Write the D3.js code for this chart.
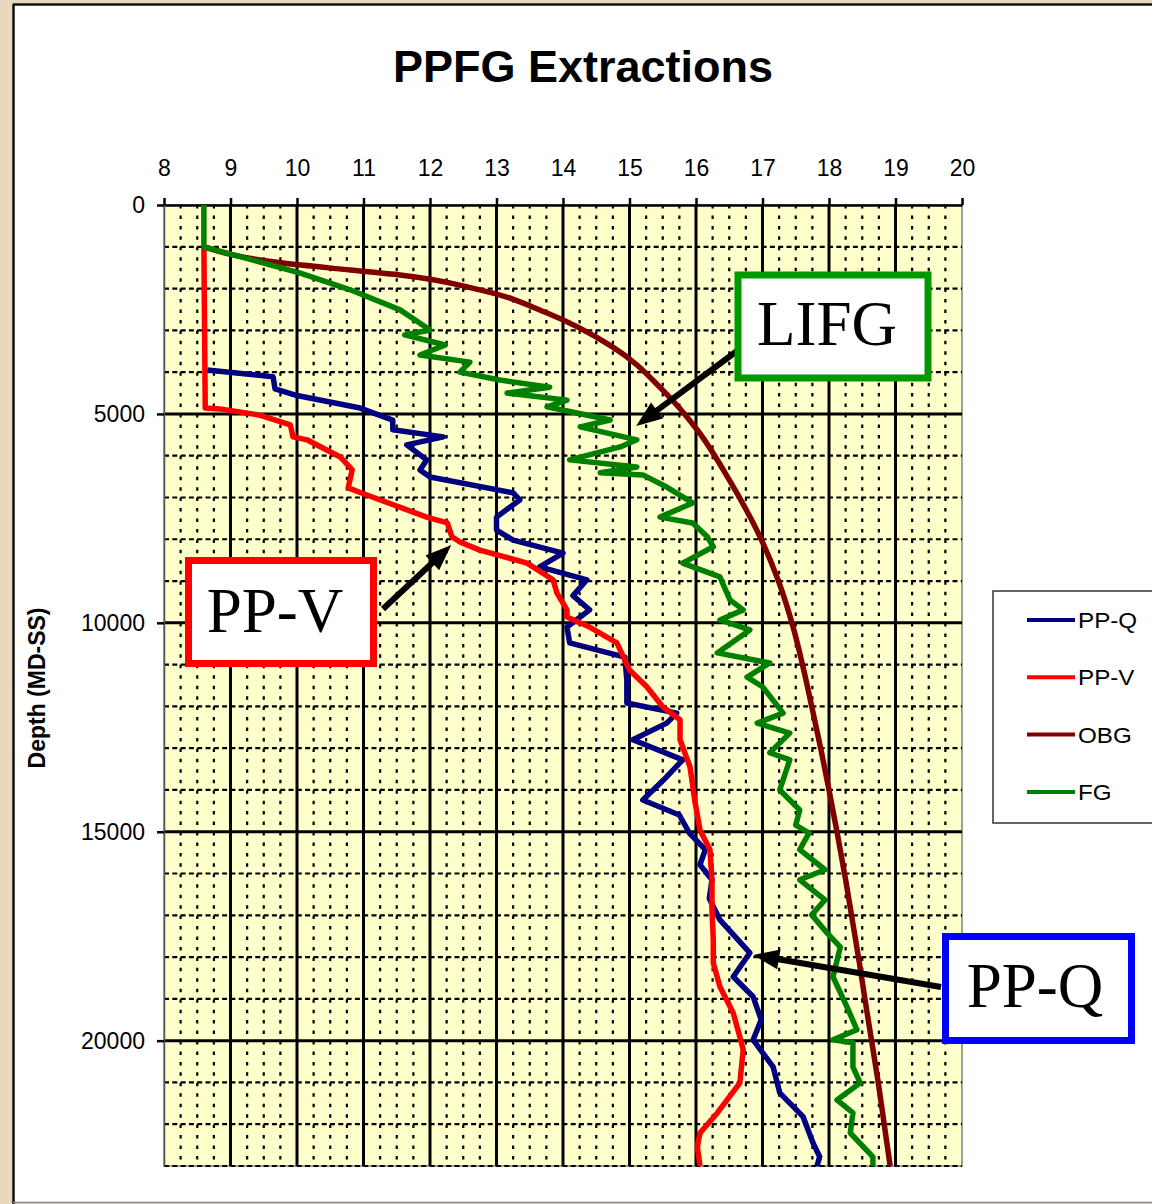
<!DOCTYPE html>
<html>
<head>
<meta charset="utf-8">
<script src="https://cdn.jsdelivr.net/npm/d3@7"></script>
<style>
  body { margin: 0; background: #fff; }
  svg { display: block; }
  text { font-family: "Liberation Sans", Arial, sans-serif; }
</style>
</head>
<body>
<div id="chart"></div>
<script>
// tick labels
var xTicks = [8, 9, 10, 11, 12, 13, 14, 15, 16, 17, 18, 19, 20];
var yTicks = [0, 5000, 10000, 15000, 20000];

// PP-Q (ppg vs depth ft)
var ppqDepth = [3950, 4110, 4400, 4560, 4860, 5150, 5380, 5550, 5740, 6100, 6340, 6510, 6890, 7060, 7470, 7780, 8020, 8330, 8660, 8970, 9350, 9690, 10100, 10480, 10820, 11370, 11920, 12160, 12400, 12800, 13280, 13700, 14240, 14600, 15030, 15430, 15790, 16150, 16600, 17110, 17900, 18470, 18950, 19500, 19980, 20630, 21250, 21820, 22450, 22780, 23000];
var ppqPpg = [8.65, 9.64, 9.67, 10.0, 10.95, 11.44, 11.44, 12.2, 11.65, 11.95, 11.85, 12.0, 13.25, 13.35, 13.0, 13.0, 13.25, 14.0, 13.65, 14.36, 14.15, 14.4, 14.06, 14.1, 14.93, 14.96, 14.96, 15.71, 15.56, 15.05, 15.8, 15.55, 15.2, 15.75, 15.9, 16.14, 16.06, 16.24, 16.2, 16.36, 16.81, 16.56, 16.86, 16.98, 16.86, 17.16, 17.26, 17.61, 17.76, 17.86, 17.82];

// PP-V
var ppvDepth = [1000, 4860, 4880, 5030, 5265, 5550, 5620, 6030, 6340, 6770, 6940, 7470, 7610, 7940, 8065, 8260, 8570, 8970, 9290, 9690, 9860, 10100, 10480, 11130, 11530, 12010, 12320, 12800, 13450, 14240, 14960, 15430, 16150, 16870, 17590, 18140, 18710, 19340, 19910, 20220, 21010, 21730, 22210, 22540, 23000];
var ppvPpg = [8.6, 8.62, 8.84, 9.44, 9.9, 9.94, 10.15, 10.65, 10.83, 10.77, 11.05, 11.95, 12.26, 12.33, 12.45, 12.75, 13.46, 13.85, 13.91, 14.06, 14.06, 14.4, 14.81, 15.0, 15.26, 15.5, 15.76, 15.76, 15.91, 15.98, 16.06, 16.21, 16.24, 16.24, 16.26, 16.26, 16.36, 16.56, 16.66, 16.71, 16.66, 16.32, 16.06, 16.02, 16.06];

// OBG
var obgDepth = [1000, 1390, 1555, 1675, 2030, 2585, 3400, 4430, 5385, 6580, 8000, 9000, 10100, 11200, 12000, 13040, 14000, 15000, 16150, 17110, 18070, 19000, 20000, 21000, 22000, 23000];
var obgPpg = [8.6, 9.79, 10.8, 11.55, 12.75, 13.76, 14.75, 15.5, 16.02, 16.5, 16.98, 17.24, 17.46, 17.63, 17.74, 17.88, 18.0, 18.12, 18.25, 18.35, 18.45, 18.54, 18.64, 18.74, 18.83, 18.92];

// FG
var fgDepth = [0, 1000, 1630, 2030, 2510, 2990, 3110, 3350, 3590, 3760, 4000, 4190, 4360, 4500, 4670, 4830, 5145, 5310, 5620, 5790, 6100, 6270, 6410, 6460, 6750, 7130, 7470, 7610, 7940, 8180, 8570, 8900, 9450, 9690, 9930, 10170, 10720, 10960, 11300, 11530, 12160, 12400, 12640, 13110, 13280, 14000, 14480, 14840, 15030, 15430, 15910, 16150, 16630, 16990, 17420, 17760, 18470, 19190, 19740, 19980, 20050, 20630, 21010, 21420, 21730, 22210, 22780, 23000];
var fgPpg = [8.6, 8.6, 10.05, 10.8, 11.55, 12.0, 11.62, 12.23, 11.85, 12.6, 12.45, 13.05, 13.8, 13.16, 14.06, 13.76, 14.71, 14.26, 15.11, 14.86, 14.1, 15.11, 14.56, 15.2, 15.56, 15.95, 15.46, 15.95, 16.17, 16.26, 15.8, 16.36, 16.51, 16.71, 16.36, 16.81, 16.32, 17.11, 16.77, 17.0, 17.31, 16.92, 17.41, 17.11, 17.41, 17.26, 17.56, 17.5, 17.7, 17.56, 17.94, 17.56, 17.94, 17.74, 17.97, 18.17, 18.06, 18.27, 18.42, 18.06, 18.36, 18.36, 18.47, 18.12, 18.36, 18.32, 18.66, 18.66];

var seriesNames = ["PP-Q", "PP-V", "OBG", "FG"];
var seriesColors = ["#000080", "#ff0000", "#800000", "#008000"];

// call-out boxes: label, arrow tip in data units (ppg, depth)
var calloutLabels = ["LIFG", "PP-V", "PP-Q"];
var calloutTipPpg = [15.1, 12.32, 16.86];
var calloutTipDepth = [5290, 8140, 17950];

function draw() {
    var W = 1152, H = 1204;
    var svg = d3.select("#chart").append("svg").attr("width", W).attr("height", H);

    // frame
    svg.append("rect").attr("width", W).attr("height", H).style("fill", "#e9d8bb");
    svg.append("rect").attr("x", 13).attr("y", 4).attr("width", W - 13).attr("height", 1198).style("fill", "#fff");
    svg.append("line").attr("x1", 13.5).attr("x2", 13.5).attr("y1", 4).attr("y2", H).style("stroke", "#111").style("stroke-width", 2.5);
    svg.append("line").attr("x1", 13).attr("x2", W).attr("y1", 4.5).attr("y2", 4.5).style("stroke", "#111").style("stroke-width", 2.5);
    svg.append("line").attr("x1", 13).attr("x2", W).attr("y1", 1202.5).attr("y2", 1202.5).style("stroke", "#888").style("stroke-width", 1.5);

    var x = d3.scaleLinear().domain([8, 20]).range([164, 962]);
    var y = d3.scaleLinear().domain([0, 23000]).range([205, 1166]);

    svg.append("text")
        .attr("x", 583).attr("y", 82)
        .attr("text-anchor", "middle")
        .style("font-size", "45px").style("font-weight", "bold")
        .text("PPFG Extractions");

    // plot background
    svg.append("rect")
        .attr("x", x(8)).attr("y", y(0))
        .attr("width", x(20) - x(8)).attr("height", y(23000) - y(0))
        .style("fill", "#ffffcc").style("stroke", "#808080").style("stroke-width", 1.5);

    var grid = svg.append("g").attr("class", "grid");

    var minorX = d3.range(8.25, 20, 0.25).filter(function (v) { return Math.abs(v - Math.round(v)) > 0.01; });
    var minorY = d3.range(1000, 23001, 1000).filter(function (d) { return d % 5000 != 0; });
    var majorX = d3.range(9, 20, 1);
    var majorY = [5000, 10000, 15000, 20000];

    grid.selectAll(".minx").data(minorX).enter().append("line")
        .attr("class", "minx")
        .attr("x1", function (d) { return x(d); }).attr("x2", function (d) { return x(d); })
        .attr("y1", y(0)).attr("y2", y(23000))
        .style("stroke", "#000").style("stroke-width", 2.2)
        .style("stroke-dasharray", "3.5,6.95");

    grid.selectAll(".miny").data(minorY).enter().append("line")
        .attr("class", "miny")
        .attr("x1", x(8)).attr("x2", x(20))
        .attr("y1", function (d) { return y(d); }).attr("y2", function (d) { return y(d); })
        .style("stroke", "#000").style("stroke-width", 2.2)
        .style("stroke-dasharray", "5,3.3");

    grid.selectAll(".majx").data(majorX).enter().append("line")
        .attr("class", "majx")
        .attr("x1", function (d) { return x(d); }).attr("x2", function (d) { return x(d); })
        .attr("y1", y(0)).attr("y2", y(23000))
        .style("stroke", "#000").style("stroke-width", 3);

    grid.selectAll(".majy").data(majorY).enter().append("line")
        .attr("class", "majy")
        .attr("x1", x(8)).attr("x2", x(20))
        .attr("y1", function (d) { return y(d); }).attr("y2", function (d) { return y(d); })
        .style("stroke", "#000").style("stroke-width", 3);

    // axes
    var xAxis = svg.append("g").attr("transform", "translate(0," + y(0) + ")")
        .call(d3.axisTop(x).tickValues(xTicks).tickSize(7).tickSizeOuter(0).tickPadding(22));
    var yAxis = svg.append("g").attr("transform", "translate(" + x(8) + ",0)")
        .call(d3.axisLeft(y).tickValues(yTicks).tickSize(7).tickSizeOuter(0).tickPadding(12).tickFormat(d3.format("d")));

    [xAxis, yAxis].forEach(function (a) {
        a.select(".domain").style("stroke", "#000").style("stroke-width", 2.5);
        a.selectAll(".tick line").style("stroke", "#000").style("stroke-width", 2.5);
        a.selectAll(".tick text")
            .style("font-family", "'Liberation Sans', Arial, sans-serif")
            .style("font-size", "23px").style("fill", "#000");
    });
    yAxis.select(".domain").style("stroke", "#555").style("stroke-width", 1.5);

    svg.append("text")
        .attr("transform", "translate(45,688) rotate(-90)")
        .attr("text-anchor", "middle")
        .style("font-size", "23px").style("font-weight", "bold")
        .text("Depth (MD-SS)");

    // curves
    var allDepth = [ppqDepth, ppvDepth, obgDepth, fgDepth];
    var allPpg = [ppqPpg, ppvPpg, obgPpg, fgPpg];
    var line = d3.line()
        .x(function (d) { return x(d.v); })
        .y(function (d) { return y(d.d); });
    var smooth = d3.line()
        .curve(d3.curveMonotoneY)
        .x(function (d) { return x(d.v); })
        .y(function (d) { return y(d.d); });

    var curves = svg.append("g").attr("class", "curves");
    seriesNames.forEach(function (name, i) {
        var pts = allDepth[i].map(function (d, j) { return { d: d, v: allPpg[i][j] }; });
        curves.append("path")
            .datum(pts)
            .attr("d", name == "OBG" ? smooth : line)
            .style("fill", "none")
            .style("stroke", seriesColors[i])
            .style("stroke-width", 5.5)
            .style("stroke-linejoin", "round");
    });

    // legend
    var leg = svg.append("g").attr("class", "legend");
    leg.append("rect").attr("x", 993).attr("y", 591).attr("width", 200).attr("height", 232)
        .style("fill", "#fff").style("stroke", "#333").style("stroke-width", 1.5);
    seriesNames.forEach(function (name, i) {
        var ly = 620 + i * 57.3;
        leg.append("line").attr("x1", 1027).attr("x2", 1075).attr("y1", ly).attr("y2", ly)
            .style("stroke", seriesColors[i]).style("stroke-width", 4);
        leg.append("text")
            .attr("transform", "translate(1078," + (ly + 8) + ") scale(1.1,1)")
            .style("font-size", "22px")
            .text(name);
    });

    // call-outs
    var boxes = [
        { x: 738, y: 275, w: 190, h: 103, color: "#009900", tx: 827, ty: 345, ax: 741, ay: 348 },
        { x: 188.5, y: 560.5, w: 185, h: 103, color: "#ff0000", tx: 275, ty: 632, ax: 383, ay: 609 },
        { x: 945.5, y: 936.5, w: 186, h: 104, color: "#0000ff", tx: 1035, ty: 1007, ax: 941, ay: 987 }
    ];
    var notes = svg.append("g").attr("class", "notes");
    calloutLabels.forEach(function (lab, i) {
        var b = boxes[i];
        var tx = x(calloutTipPpg[i]), ty = y(calloutTipDepth[i]);
        var dx = tx - b.ax, dy = ty - b.ay, len = Math.sqrt(dx * dx + dy * dy);
        var ux = dx / len, uy = dy / len;
        var hl = 26, hw = 10;
        var bx = tx - ux * hl, by = ty - uy * hl;
        notes.append("line")
            .attr("x1", b.ax).attr("y1", b.ay).attr("x2", bx + ux * 2).attr("y2", by + uy * 2)
            .style("stroke", "#000").style("stroke-width", 6);
        notes.append("path")
            .attr("d", "M" + tx + "," + ty +
                "L" + (bx - uy * hw) + "," + (by + ux * hw) +
                "L" + (bx + uy * hw) + "," + (by - ux * hw) + "Z")
            .style("fill", "#000");
        notes.append("rect").attr("x", b.x).attr("y", b.y).attr("width", b.w).attr("height", b.h)
            .style("fill", "#fff").style("stroke", b.color).style("stroke-width", 7);
        notes.append("text")
            .attr("x", b.tx).attr("y", b.ty)
            .attr("text-anchor", "middle")
            .style("font-family", "'Liberation Serif', 'Times New Roman', serif")
            .style("font-size", "63px")
            .text(lab);
    });
}

draw();
</script>
</body>
</html>
